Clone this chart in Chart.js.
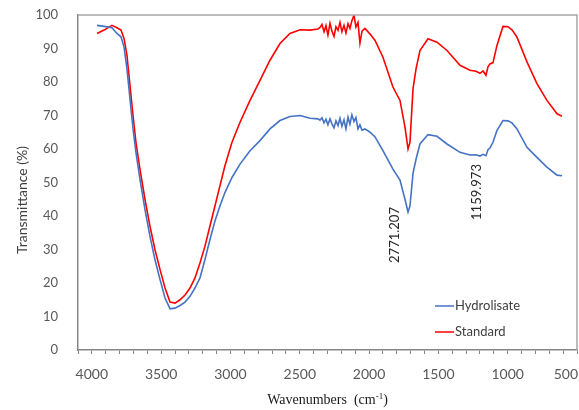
<!DOCTYPE html>
<html>
<head>
<meta charset="utf-8">
<script src="https://cdn.jsdelivr.net/npm/chart.js@4/dist/chart.umd.min.js"></script>
<style>
  html, body { margin: 0; padding: 0; background: #ffffff; }
  canvas { display: block; }
</style>
</head>
<body>
<canvas id="c" width="579" height="410"></canvas>
<script>
// Wavenumbers (cm-1)
const wavenumbers = [
  3963,3912,3855,3819,3790,3768,3747,3725,3703,3682,
  3653,3617,3581,3545,3508,3472,3436,3400,3364,3328,
  3292,3256,3220,3184,3148,3112,3076,3040,2989,2931,
  2859,2787,2715,2643,2571,2498,2426,2369,2354,2340,
  2325,2311,2297,2282,2268,2253,2239,2224,2210,2196,
  2181,2167,2152,2138,2124,2109,2095,2080,2066,2051,
  2030,1993,1957,1900,1828,1777,1741,1719,1705,1683,
  1661,1633,1575,1510,1438,1344,1272,1229,1200,1178,
  1157,1142,1128,1106,1077,1034,998,969,933,861,
  789,717,644,608
];
// Transmittance (%) - Hydrolisate
const hydrolisate = [
  96.9,96.6,96.2,94.5,93.5,90.5,84,75,66,59,
  51,42,34,27,21,15.5,12.3,12.5,13.3,14.3,
  16,18.5,21.5,27,33,38.5,43,47,51.5,55.5,
  59.5,62.5,66,68.5,69.7,70,69.2,69.0,68.6,69.3,
  67.8,68.9,67.2,69.0,67.5,66.3,68.4,67.0,69.2,66.8,
  68.7,66.0,69.5,67.4,70.2,68.2,69.4,66.0,67.2,65.6,
  66.0,65,63.6,59.5,54,50.7,45,41.2,43,52.8,
  57,61.5,64.3,63.8,61.5,59,58.2,58.3,57.9,58.4,
  58.0,59.8,60.3,62,65.6,68.5,68.4,67.8,66,60.5,
  57.5,54.6,52.2,52
];
// Transmittance (%) - Standard
const standard = [
  94.5,95.5,96.9,96.2,95.5,93,88,79,70,62,
  54,45,37,30,24,18.5,14.3,14,15,16.4,
  18.5,21.5,26,31,37,43,49,55,62,68,
  74.5,80.5,86.5,91.5,94.5,95.6,95.5,95.8,96.3,97.2,
  95.0,96.8,94.0,97.5,95.2,93.6,96.5,95.4,97.8,95.0,
  96.9,94.6,97.4,96.0,98.3,99.9,96.4,97.8,91.6,95.2,
  96.0,94.3,92.4,87.4,78.5,74.5,66.5,60,62,78,
  84,89.4,92.9,91.9,89.4,85,83.5,83.2,82.6,83.3,
  82.0,84.5,85.4,85.8,91,96.6,96.5,95.6,93.4,86,
  79.5,74.5,70.5,69.8
];
const seriesNames = ['Hydrolisate', 'Standard'];
const xTickLabels = [4000, 3500, 3000, 2500, 2000, 1500, 1000, 500];
const yTickLabels = [0, 10, 20, 30, 40, 50, 60, 70, 80, 90, 100];
const peakLabels = ['2771.207', '1159.973'];

const BLUE = '#4472C4', RED = '#FF0000';
const SANS = 'Lato, "Open Sans", sans-serif';

const decor = {
  id: 'decor',
  afterDraw(chart) {
    const { ctx, chartArea: a } = chart;
    const xs = chart.scales.x;
    ctx.save();
    // plot area border (top + right)
    ctx.strokeStyle = '#a6a6a6';
    ctx.lineWidth = 1.5;
    ctx.beginPath();
    ctx.moveTo(a.left, a.top);
    ctx.lineTo(a.right, a.top);
    ctx.lineTo(a.right, a.bottom);
    ctx.stroke();

    // x tick labels (the rightmost one is kept inside the canvas)
    ctx.font = '14px ' + SANS;
    ctx.fillStyle = '#595959';
    ctx.textBaseline = 'middle';
    xTickLabels.forEach((v) => {
      const px = xs.getPixelForValue(v);
      const t = String(v);
      const w = ctx.measureText(t).width;
      let left = px - w / 2;
      if (left + w > 578) left = 578 - w;
      ctx.textAlign = 'left';
      ctx.fillText(t, left, 374);
    });

    // legend
    const items = [[seriesNames[0], BLUE, 306], [seriesNames[1], RED, 332]];
    ctx.font = '13px ' + SANS;
    ctx.textBaseline = 'middle';
    ctx.textAlign = 'left';
    items.forEach(([name, col, y]) => {
      ctx.strokeStyle = col; ctx.lineWidth = 1.5;
      ctx.beginPath(); ctx.moveTo(435, y); ctx.lineTo(454, y); ctx.stroke();
      ctx.fillStyle = '#404040';
      ctx.fillText(name, 455, y);
    });

    // peak annotations (rotated)
    ctx.font = '13px ' + SANS;
    ctx.fillStyle = '#262626';
    ctx.textAlign = 'center';
    ctx.textBaseline = 'middle';
    [[peakLabels[0], 395, 235], [peakLabels[1], 477, 192]].forEach(([t, x, y]) => {
      ctx.save(); ctx.translate(x, y); ctx.rotate(-Math.PI / 2); ctx.fillText(t, 0, 0); ctx.restore();
    });

    // y axis title
    ctx.save();
    ctx.font = '14px ' + SANS;
    ctx.fillStyle = '#404040';
    ctx.translate(22, 200); ctx.rotate(-Math.PI / 2);
    ctx.fillText('Transmittance (%)', 0, 0);
    ctx.restore();

    // x axis title with superscript
    const serif = '"Liberation Serif", "Times New Roman", serif';
    const p1 = 'Wavenumbers  (cm', sup = '-1', p3 = ')';
    ctx.fillStyle = '#1a1a1a';
    ctx.textBaseline = 'alphabetic';
    ctx.textAlign = 'left';
    ctx.font = '14px ' + serif; const w1 = ctx.measureText(p1).width, w3 = ctx.measureText(p3).width;
    ctx.font = '9px ' + serif; const w2 = ctx.measureText(sup).width;
    const cx = (a.left + a.right) / 2;
    let x = cx - (w1 + w2 + w3) / 2;
    const by = 404;
    ctx.font = '14px ' + serif; ctx.fillText(p1, x, by); x += w1;
    ctx.font = '9px ' + serif; ctx.fillText(sup, x, by - 5); x += w2;
    ctx.font = '14px ' + serif; ctx.fillText(p3, x, by);
    ctx.restore();
  }
};

const mk = (vals) => wavenumbers.map((w, i) => ({ x: w, y: vals[i] }));

new Chart(document.getElementById('c'), {
  type: 'line',
  data: {
    datasets: [
      { label: seriesNames[0], data: mk(hydrolisate), borderColor: BLUE, borderWidth: 1.6, pointRadius: 0, tension: 0, fill: false },
      { label: seriesNames[1], data: mk(standard), borderColor: RED, borderWidth: 1.6, pointRadius: 0, tension: 0, fill: false }
    ]
  },
  options: {
    responsive: false,
    animation: false,
    devicePixelRatio: 1,
    layout: { padding: { top: 15, right: 2, left: 0, bottom: 0 } },
    plugins: { legend: { display: false }, tooltip: { enabled: false } },
    scales: {
      x: {
        type: 'linear',
        reverse: true,
        min: 500, max: 4100,
        afterFit(s) { s.height = 60; s.paddingLeft = 0; s.paddingRight = 0; },
        grid: { display: true, drawOnChartArea: false, drawTicks: true, tickLength: 4, color: '#868686', lineWidth: 1 },
        border: { display: true, color: '#868686', width: 1.5 },
        ticks: {
          stepSize: 100, autoSkip: false, maxRotation: 0, padding: 9,
          color: '#595959', font: { family: SANS, size: 14 },
          callback: () => ''
        }
      },
      y: {
        min: 0, max: 100,
        afterFit(s) { s.width = 78; s.paddingTop = 0; s.paddingBottom = 0; },
        grid: { display: false },
        border: { display: true, color: '#868686', width: 1.5 },
        ticks: {
          stepSize: 10, padding: 12, color: '#595959', font: { family: SANS, size: 13 },
          callback: (v) => yTickLabels.includes(v) ? String(v) : ''
        }
      }
    }
  },
  plugins: [decor]
});
</script>
</body>
</html>
